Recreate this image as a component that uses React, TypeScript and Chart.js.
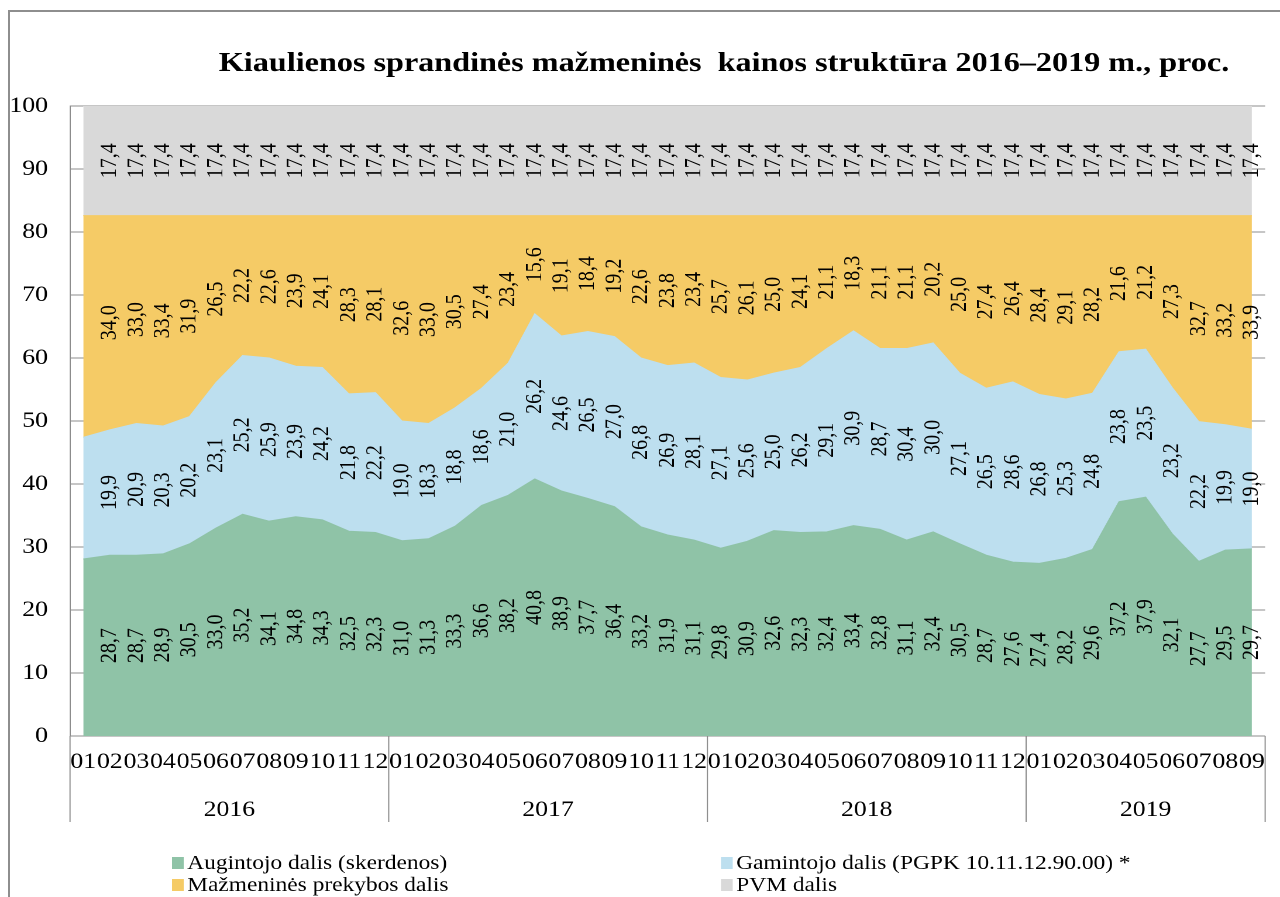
import React, { useEffect, useRef } from "react";
import { Chart, registerables } from "chart.js";

Chart.register(...registerables);

// ---------- data ----------
const years = ["2016", "2017", "2018", "2019"];
const monthsPerYear = [12, 12, 12, 9];
const monthNames = ["01", "02", "03", "04", "05", "06", "07", "08", "09", "10", "11", "12"];

const monthLabels: string[] = [];
const yearOfCategory: string[] = [];
years.forEach((y, i) => {
  for (let m = 0; m < monthsPerYear[i]; m++) {
    monthLabels.push(monthNames[m]);
    yearOfCategory.push(y);
  }
});

const titleText = "Kiaulienos sprandinės mažmeninės  kainos struktūra 2016–2019 m., proc.";

const seriesNames = [
  "Augintojo dalis (skerdenos)",
  "Gamintojo dalis (PGPK 10.11.12.90.00) *",
  "Mažmeninės prekybos dalis",
  "PVM dalis",
];

const augintojo = [
  28.1, 28.7, 28.7, 28.9, 30.5, 33.0, 35.2, 34.1, 34.8, 34.3, 32.5, 32.3,
  31.0, 31.3, 33.3, 36.6, 38.2, 40.8, 38.9, 37.7, 36.4, 33.2, 31.9, 31.1,
  29.8, 30.9, 32.6, 32.3, 32.4, 33.4, 32.8, 31.1, 32.4, 30.5, 28.7, 27.6,
  27.4, 28.2, 29.6, 37.2, 37.9, 32.1, 27.7, 29.5, 29.7,
];
const gamintojo = [
  19.3, 19.9, 20.9, 20.3, 20.2, 23.1, 25.2, 25.9, 23.9, 24.2, 21.8, 22.2,
  19.0, 18.3, 18.8, 18.6, 21.0, 26.2, 24.6, 26.5, 27.0, 26.8, 26.9, 28.1,
  27.1, 25.6, 25.0, 26.2, 29.1, 30.9, 28.7, 30.4, 30.0, 27.1, 26.5, 28.6,
  26.8, 25.3, 24.8, 23.8, 23.5, 23.2, 22.2, 19.9, 19.0,
];
const mazmenines = [
  35.2, 34.0, 33.0, 33.4, 31.9, 26.5, 22.2, 22.6, 23.9, 24.1, 28.3, 28.1,
  32.6, 33.0, 30.5, 27.4, 23.4, 15.6, 19.1, 18.4, 19.2, 22.6, 23.8, 23.4,
  25.7, 26.1, 25.0, 24.1, 21.1, 18.3, 21.1, 21.1, 20.2, 25.0, 27.4, 26.4,
  28.4, 29.1, 28.2, 21.6, 21.2, 27.3, 32.7, 33.2, 33.9,
];
const pvm = [
  17.4, 17.4, 17.4, 17.4, 17.4, 17.4, 17.4, 17.4, 17.4, 17.4, 17.4, 17.4,
  17.4, 17.4, 17.4, 17.4, 17.4, 17.4, 17.4, 17.4, 17.4, 17.4, 17.4, 17.4,
  17.4, 17.4, 17.4, 17.4, 17.4, 17.4, 17.4, 17.4, 17.4, 17.4, 17.4, 17.4,
  17.4, 17.4, 17.4, 17.4, 17.4, 17.4, 17.4, 17.4, 17.4,
];
// the first month carries no value label in the original
const unlabeledIndexes = [0];

const yTicksMin = 0;
const yTicksMax = 100;
const yTicksStep = 10;

// ---------- style ----------
const colors = ["#8fc3a7", "#bddfef", "#f5cb66", "#d9d9d9"];
const FONT = "'Liberation Serif', 'Times New Roman', serif";
const GRID = "#8c8c8c";
const LW = 1094; // logical canvas width (stretched horizontally to 1280)
const SX = 1280 / LW;
const H = 897;

const fmt = (v: number) => v.toFixed(1).replace(".", ",");

const decorPlugin = {
  id: "decor",
  afterDatasetsDraw(chart: any) {
    const { ctx } = chart;
    const xs = chart.scales.x;
    const ys = chart.scales.y;
    const ds = chart.data.datasets;
    ctx.save();
    ctx.font = `20px ${FONT}`;
    ctx.fillStyle = "#000";
    ctx.textAlign = "center";
    ctx.textBaseline = "middle";
    for (let j = 0; j < chart.data.labels.length; j++) {
      let base = 0;
      for (let i = 0; i < ds.length; i++) {
        const v = ds[i].data[j] as number;
        if (!unlabeledIndexes.includes(j)) {
          const cx = xs.getPixelForValue(j);
          const cy = ys.getPixelForValue(base + v / 2);
          ctx.save();
          ctx.translate(cx, cy);
          ctx.rotate(-Math.PI / 2);
          ctx.fillText(fmt(v), 0, 0);
          ctx.restore();
        }
        base += v;
      }
    }
    ctx.restore();
  },
  afterDraw(chart: any) {
    const { ctx, chartArea } = chart;
    const xs = chart.scales.x;
    ctx.save();

    // title
    ctx.font = `bold 27.5px ${FONT}`;
    ctx.fillStyle = "#000";
    ctx.textAlign = "center";
    ctx.textBaseline = "alphabetic";
    ctx.fillText(titleText, 724 / SX, 71);

    // year group dividers and labels
    const n = chart.data.labels.length;
    const half = (xs.getPixelForValue(1) - xs.getPixelForValue(0)) / 2;
    const bottomY = 822;
    ctx.strokeStyle = GRID;
    ctx.lineWidth = 1;
    let start = 0;
    const bounds: number[] = [chartArea.left];
    const groups: { y: string; l: number; r: number }[] = [];
    for (let j = 1; j <= n; j++) {
      if (j === n || yearOfCategory[j] !== yearOfCategory[start]) {
        const l = start === 0 ? chartArea.left : xs.getPixelForValue(start) - half;
        const r = j === n ? chartArea.right : xs.getPixelForValue(j - 1) + half;
        groups.push({ y: yearOfCategory[start], l, r });
        bounds.push(r);
        start = j;
      }
    }
    bounds.forEach((bx) => {
      ctx.beginPath();
      ctx.moveTo(bx, chartArea.bottom);
      ctx.lineTo(bx, bottomY);
      ctx.stroke();
    });
    ctx.font = `22px ${FONT}`;
    ctx.textBaseline = "alphabetic";
    groups.forEach((g) => {
      ctx.fillText(g.y, (g.l + g.r) / 2, 816);
    });

    // legend (2 x 2)
    ctx.font = `20px ${FONT}`;
    ctx.textAlign = "left";
    const cols = [172 / SX, 721 / SX];
    const rows = [869, 891];
    chart.data.datasets.forEach((d: any, i: number) => {
      const cx = cols[i % 2];
      const by = rows[Math.floor(i / 2)];
      ctx.fillStyle = d.backgroundColor;
      ctx.fillRect(cx, by - 12, 10, 12);
      ctx.fillStyle = "#000";
      ctx.fillText(d.label, cx + 13, by);
    });

    ctx.restore();
  },
};

export default function App() {
  const ref = useRef<HTMLCanvasElement>(null);

  useEffect(() => {
    if (!ref.current) return;
    const values = [augintojo, gamintojo, mazmenines, pvm];
    const chart = new Chart(ref.current, {
      type: "line",
      data: {
        labels: monthLabels,
        datasets: values.map((v, i) => ({
          label: seriesNames[i],
          data: v,
          backgroundColor: colors[i],
          borderColor: colors[i],
          borderWidth: 1,
          pointRadius: 0,
          tension: 0,
          fill: i === 0 ? "origin" : "-1",
        })),
      },
      options: {
        responsive: false,
        animation: false,
        devicePixelRatio: 2,
        layout: { padding: { top: 106, left: 0, right: LW - 1275 / SX, bottom: 0 } },
        plugins: {
          legend: { display: false },
          tooltip: { enabled: false },
          title: { display: false },
        },
        scales: {
          x: {
            type: "category",
            offset: true,
            grid: { display: false, drawTicks: false },
            border: { display: false },
            ticks: {
              autoSkip: false,
              maxRotation: 0,
              minRotation: 0,
              padding: 13,
              color: "#000",
              font: { family: FONT, size: 22 },
            },
            afterFit: (s: any) => {
              s.height = H - 736;
            },
          },
          y: {
            stacked: true,
            min: yTicksMin,
            max: yTicksMax,
            ticks: {
              stepSize: yTicksStep,
              padding: 70 / SX - 48 / SX,
              color: "#000",
              font: { family: FONT, size: 22 },
            },
            grid: { color: GRID, drawTicks: false, lineWidth: 1 },
            border: { display: true, color: GRID, width: 1 },
            afterFit: (s: any) => {
              s.width = 70 / SX;
            },
          },
        },
      } as any,
      plugins: [decorPlugin],
    });
    return () => chart.destroy();
  }, []);

  return (
    <div
      style={{
        position: "fixed",
        left: 0,
        top: 0,
        width: 1280,
        height: H,
        overflow: "hidden",
        background: "#fff",
      }}
    >
      <div
        style={{
          position: "absolute",
          left: 8,
          top: 10,
          width: 1400,
          height: 1000,
          border: "2px solid #8e8e8e",
          boxSizing: "border-box",
        }}
      />
      <div
        style={{
          position: "absolute",
          left: 0,
          top: 0,
          width: LW,
          height: H,
          transform: `scaleX(${SX})`,
          transformOrigin: "0 0",
        }}
      >
        <canvas ref={ref} width={LW} height={H} style={{ display: "block" }} />
      </div>
    </div>
  );
}
